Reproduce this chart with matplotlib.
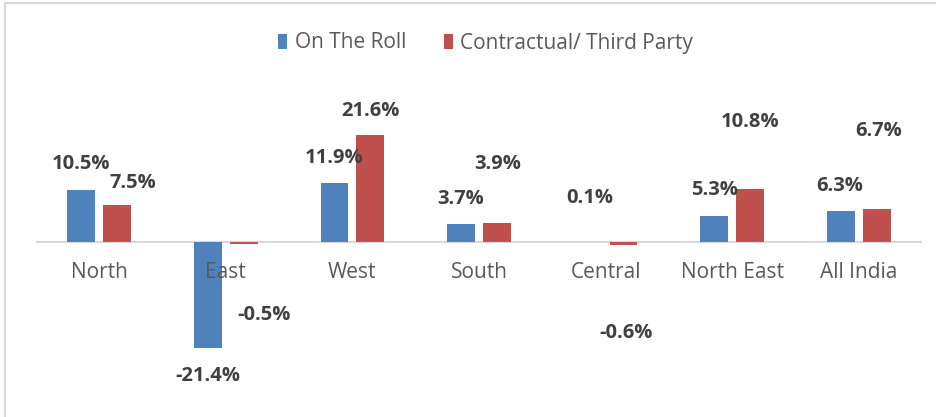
import matplotlib.pyplot as plt
import numpy as np
from matplotlib.patches import Rectangle

# data
regions = ["North", "East", "West", "South", "Central", "North East", "All India"]
on_roll = [10.5, -21.4, 11.9, 3.7, 0.1, 5.3, 6.3]
contractual = [7.5, -0.5, 21.6, 3.9, -0.6, 10.8, 6.7]
series_names = ["On The Roll", "Contractual/ Third Party"]

# label offsets (pixels) from the bar end, as placed in the original chart
blue_offsets = [(0, 26), (0, -28), (0, 25), (0, 25), (2, 44), (0, 26), (-1, 25)]
red_offsets = [(16, 22), (20, -71), (0, 24), (1, 59), (3, -88), (0, 67), (2, 78)]

BLUE = "#4F81BD"
RED = "#C0504D"
TXT = "#404040"
FONT = "Open Sans"

fig = plt.figure(figsize=(9.36, 4.17), dpi=100)
ax = fig.add_axes([36 / 936, 26.5 / 417, 886 / 936, 297 / 417])

x = np.arange(len(regions))
w = 0.22
shift = 0.142
b1 = ax.bar(x - shift, on_roll, w, color=BLUE, label=series_names[0])
b2 = ax.bar(x + shift, contractual, w, color=RED, label=series_names[1])

ax.axhline(0, color="#D9D9D9", lw=1.5, zorder=0)
ax.set_xlim(-0.5, len(regions) - 0.5)
ax.set_ylim(-30, 30)
ax.axis("off")

def put_labels(xs, vals, offsets):
    for xi, v, (dx, dy) in zip(xs, vals, offsets):
        ax.annotate(f"{v:.1f}%", (xi, v), xytext=(dx, dy), textcoords="offset pixels",
                    ha="center", va="center", fontsize=14.5, fontweight="bold",
                    color=TXT, family=FONT)

put_labels(x - shift, on_roll, blue_offsets)
put_labels(x + shift, contractual, red_offsets)

for xi, name in zip(x, regions):
    ax.annotate(name, (xi, 0), xytext=(0, -30), textcoords="offset pixels",
                ha="center", va="center", fontsize=15, color="#595959", family=FONT)

leg = fig.legend(loc="center", bbox_to_anchor=(0.519, 1 - 43 / 417), ncol=2, frameon=False,
                 prop={"family": FONT, "size": 15}, handlelength=0.42, handleheight=0.7,
                 handletextpad=0.37, columnspacing=1.8)
for t in leg.get_texts():
    t.set_color("#595959")

# light frame around the chart area
fig.patches.append(Rectangle((5 / 936, -0.1), 1.2, 1 - 3 / 417 + 0.1, transform=fig.transFigure,
                             fill=False, edgecolor="#D9D9D9", lw=1.5))

fig.savefig("out.png", dpi=100)
